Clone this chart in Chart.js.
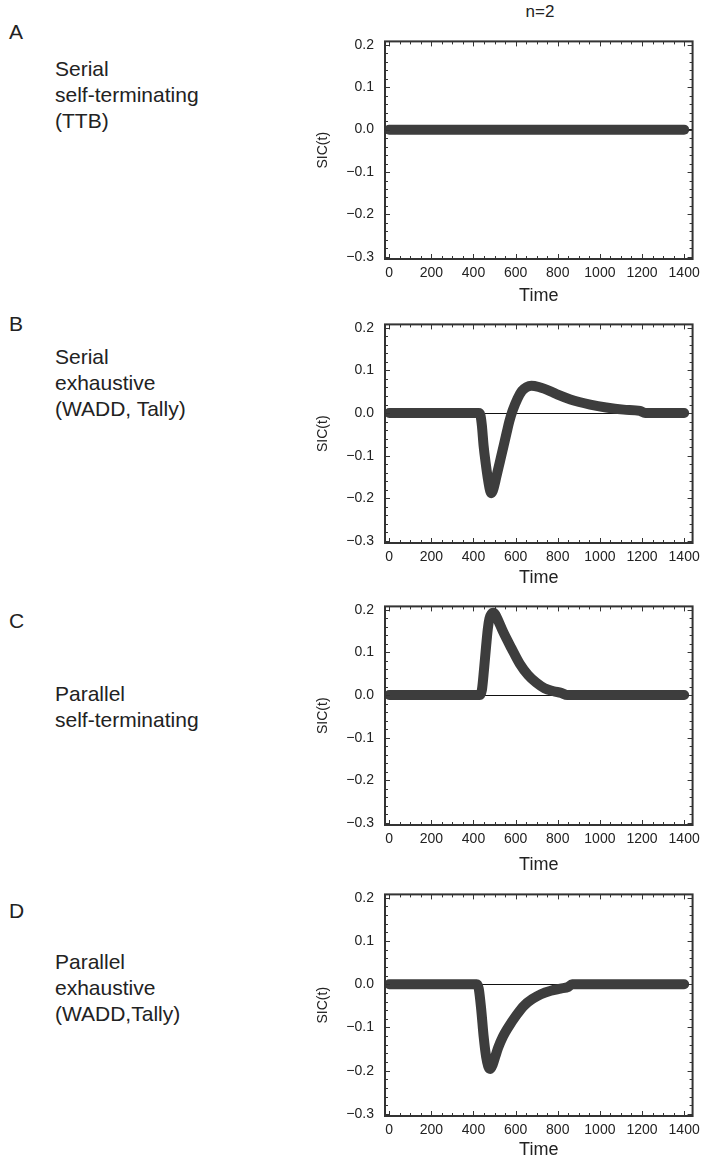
<!DOCTYPE html>
<html>
<head>
<meta charset="utf-8">
<script src="https://cdn.jsdelivr.net/npm/chart.js@4.4.1/dist/chart.umd.min.js"></script>
<style>
  body { margin: 0; background: #fff; width: 706px; height: 1157px; position: relative; overflow: hidden;
         font-family: 'Liberation Sans', Arial, sans-serif; color: #222; }
  canvas { position: absolute; left: 300px; }
  .letter { position: absolute; left: 9px; font-size: 21px; line-height: 26px; }
  .desc { position: absolute; left: 55px; font-size: 21px; line-height: 26px; white-space: nowrap; }
  #title { position: absolute; left: 490px; width: 100px; top: 0; text-align: center; font-size: 17px; line-height: 24px; }
</style>
</head>
<body>
<div id="title">n=2</div>

<div class="letter" style="top:19px">A</div>
<div class="desc" style="top:56px">Serial<br>self-terminating<br>(TTB)</div>
<div class="letter" style="top:311px">B</div>
<div class="desc" style="top:344px">Serial<br>exhaustive<br>(WADD, Tally)</div>
<div class="letter" style="top:608px">C</div>
<div class="desc" style="top:681px">Parallel<br>self-terminating</div>
<div class="letter" style="top:898px">D</div>
<div class="desc" style="top:949px">Parallel<br>exhaustive<br>(WADD,Tally)</div>

<canvas id="chart-a"></canvas>
<canvas id="chart-b"></canvas>
<canvas id="chart-c"></canvas>
<canvas id="chart-d"></canvas>

<script>
// tick labels
const xTicks = [0, 200, 400, 600, 800, 1000, 1200, 1400];
const yTicks = [-0.3, -0.2, -0.1, 0.0, 0.1, 0.2];
const minorStepX = 50;
const minorStepY = 0.02;

// A: serial self-terminating (TTB)
const timeA = [0, 1400];
const sicA = [0, 0];

// B: serial exhaustive
const timeB = [0, 425, 433, 440, 448, 458, 468, 476, 484, 492, 500, 507, 525, 543, 558, 570, 586, 609, 630, 652, 675, 710, 766, 800, 860, 954, 1030, 1113, 1190, 1215, 1400];
const sicB = [0, 0, -0.005, -0.03, -0.077, -0.118, -0.153, -0.176, -0.188, -0.182, -0.168, -0.153, -0.115, -0.077, -0.045, -0.02, 0.006, 0.034, 0.052, 0.061, 0.064, 0.061, 0.051, 0.043, 0.032, 0.02, 0.013, 0.008, 0.005, 0, 0];

// C: parallel self-terminating
const timeC = [0, 430, 440, 450, 460, 468, 476, 485, 494, 505, 518, 541, 580, 620, 659, 698, 737, 780, 816, 845, 1400];
const sicC = [0, 0, 0.012, 0.06, 0.115, 0.155, 0.18, 0.19, 0.193, 0.188, 0.174, 0.148, 0.11, 0.073, 0.047, 0.029, 0.016, 0.009, 0.005, 0, 0];

// D: parallel exhaustive
const timeD = [0, 415, 425, 437, 448, 460, 470, 480, 492, 505, 517, 540, 562, 603, 641, 680, 720, 767, 813, 850, 868, 1400];
const sicD = [0, 0, -0.01, -0.06, -0.12, -0.168, -0.19, -0.196, -0.185, -0.165, -0.147, -0.121, -0.102, -0.072, -0.049, -0.034, -0.023, -0.015, -0.01, -0.006, 0, 0];

const panels = [
  { id: 'chart-a', time: timeA, sic: sicA, top: 32, bottom: 259, axisH: 48 },
  { id: 'chart-b', time: timeB, sic: sicB, top: 315, bottom: 543, axisH: 46 },
  { id: 'chart-c', time: timeC, sic: sicC, top: 597, bottom: 825, axisH: 51 },
  { id: 'chart-d', time: timeD, sic: sicD, top: 885, bottom: 1116, axisH: 45 }
];

const PAD_TOP = 10;
const YAXIS_W = 85;

// frame box + inward minor/major ticks on all four sides
const frameTicks = {
  id: 'frameTicks',
  afterDraw(chart) {
    const { ctx, chartArea: a, scales: { x, y } } = chart;
    ctx.save();
    ctx.strokeStyle = '#333';
    ctx.lineWidth = 1;
    ctx.beginPath();
    for (let t = xTicks[0]; t <= xTicks[xTicks.length - 1]; t += minorStepX) {
      const px = Math.round(x.getPixelForValue(t)) + 0.5;
      const len = t % 200 === 0 ? 5 : 3;
      ctx.moveTo(px, a.bottom); ctx.lineTo(px, a.bottom - len);
      ctx.moveTo(px, a.top); ctx.lineTo(px, a.top + len);
    }
    for (let k = -15; k <= 10; k++) {
      const py = Math.round(y.getPixelForValue(k * minorStepY)) + 0.5;
      const len = k % 5 === 0 ? 5 : 3;
      ctx.moveTo(a.left, py); ctx.lineTo(a.left + len, py);
      ctx.moveTo(a.right, py); ctx.lineTo(a.right - len, py);
    }
    ctx.stroke();
    ctx.lineWidth = 2;
    ctx.strokeRect(a.left, a.top, a.right - a.left, a.bottom - a.top);
    ctx.restore();
  }
};

const fmtY = (v) => (v < 0 ? '\u2212' : '') + Math.abs(v).toFixed(1);

panels.forEach((p) => {
  const canvas = document.getElementById(p.id);
  canvas.width = 406;
  canvas.height = (p.bottom - p.top) + PAD_TOP + p.axisH;
  canvas.style.top = (p.top - PAD_TOP) + 'px';

  new Chart(canvas, {
    type: 'line',
    data: {
      datasets: [{
        data: p.time.map((t, i) => ({ x: t, y: p.sic[i] })),
        borderColor: '#3d3d3d',
        borderWidth: 10,
        borderCapStyle: 'round',
        borderJoinStyle: 'round',
        pointRadius: 0,
        cubicInterpolationMode: 'monotone',
        fill: false
      }]
    },
    options: {
      responsive: false,
      animation: false,
      layout: { padding: { top: PAD_TOP, right: 10, left: 0, bottom: 0 } },
      plugins: { legend: { display: false }, tooltip: { enabled: false } },
      scales: {
        x: {
          type: 'linear',
          min: -20,
          max: 1440,
          afterBuildTicks: (scale) => { scale.ticks = xTicks.map(v => ({ value: v })); },
          afterFit: (scale) => { scale.height = p.axisH; },
          grid: { display: false, drawTicks: false },
          border: { display: false },
          ticks: { color: '#222', font: { family: 'Liberation Sans', size: 14 }, padding: 6, maxRotation: 0, autoSkip: false, callback: (v) => String(v) },
          title: { display: true, text: 'Time', color: '#222', font: { family: 'Liberation Sans', size: 18 }, padding: 0 }
        },
        y: {
          type: 'linear',
          min: -0.305,
          max: 0.208,
          afterBuildTicks: (scale) => { scale.ticks = yTicks.map(v => ({ value: v })); },
          afterFit: (scale) => { scale.width = YAXIS_W; },
          grid: {
            drawTicks: false,
            color: (c) => (c.tick && c.tick.value === 0 ? '#111' : 'rgba(0,0,0,0)'),
            lineWidth: 1
          },
          border: { display: false },
          ticks: { color: '#222', font: { family: 'Liberation Sans', size: 14 }, padding: 11, callback: fmtY },
          title: { display: true, text: 'SIC(t)', color: '#222', font: { family: 'Liberation Sans', size: 14 }, padding: { top: 15, bottom: 0 } }
        }
      }
    },
    plugins: [frameTicks]
  });
});
</script>
</body>
</html>
